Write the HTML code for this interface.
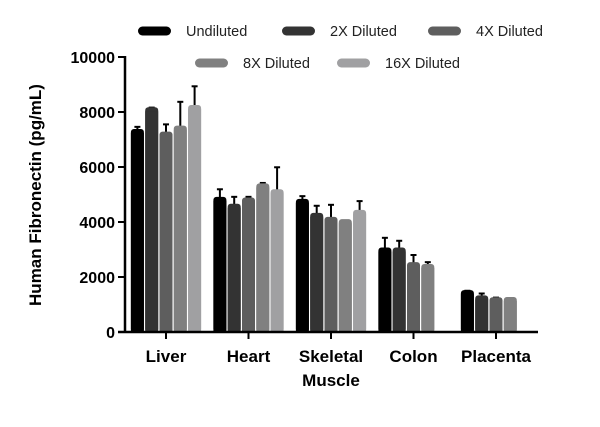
<!DOCTYPE html>
<html><head><meta charset="utf-8"><style>
body{margin:0;background:#fff;}
svg text{font-family:"Liberation Sans",sans-serif;}
</style></head><body>
<svg id="chart" width="600" height="422" viewBox="0 0 600 422" xmlns="http://www.w3.org/2000/svg">
<g id="legend"></g>
<g id="bars"></g>
<g id="axes"></g>
<text transform="translate(41,195) rotate(-90)" text-anchor="middle" font-size="17" font-weight="bold">Human Fibronectin (pg/mL)</text>
</svg>
<script>
const categories = ["Liver","Heart","Skeletal|Muscle","Colon","Placenta"];
const seriesNames = ["Undiluted","2X Diluted","4X Diluted","8X Diluted","16X Diluted"];
const undiluted = [7310,4840,4770,3000,1450];
const diluted2x = [8100,4590,4260,3000,1260];
const diluted4x = [7215,4820,4115,2470,1190];
const diluted8x = [7430,5330,4030,2400,1200];
const diluted16x = [8180,5120,4370,null,null];
const err_undiluted = [150,350,170,425,50];
const err_2x = [60,325,330,317,140];
const err_4x = [335,95,510,330,60];
const err_8x = [940,90,25,140,20];
const err_16x = [755,870,390,null,null];
const yTicks = [0,2000,4000,6000,8000,10000];

const series=[undiluted,diluted2x,diluted4x,diluted8x,diluted16x];
const errs=[err_undiluted,err_2x,err_4x,err_8x,err_16x];
const colors=["#000000","#333333","#5e5e5e","#808080","#a0a0a2"];
const NS="http://www.w3.org/2000/svg";
const x0=125,y0=332,yTop=57,yMax=10000;
const y=v=>y0-(v/yMax)*(y0-yTop);
const groupCenter=i=>166+i*82.5;
const pitch=14.3,bw=13;
function mk(tag,attrs,parent){const e=document.createElementNS(NS,tag);for(const k in attrs)e.setAttribute(k,attrs[k]);parent.appendChild(e);return e;}
const bars=document.getElementById('bars'),axes=document.getElementById('axes'),legend=document.getElementById('legend');
categories.forEach((c,i)=>{
  const start=groupCenter(i)-2.5*pitch;
  series.forEach((s,j)=>{
    const v=s[i]; if(v==null)return;
    const bx=start+j*pitch+(pitch-bw)/2;
    const eb=errs[j][i];
    const ln=mk('line',{x1:bx+bw/2,x2:bx+bw/2,y1:y(v),y2:y(v+eb),stroke:"#000","stroke-width":2},bars);
    
    
    const cap=mk('line',{x1:bx+bw/2-3,x2:bx+bw/2+3,y1:y(v+eb),y2:y(v+eb),stroke:"#000","stroke-width":2},bars);
    
    
    const r=mk('rect',{x:bx,y:y(v)-2,width:bw,height:y0-y(v)+2,rx:3,fill:colors[j]},bars);
    
    
    const r2=mk('rect',{x:bx,y:y(v)+2,width:bw,height:y0-y(v)-2,fill:colors[j]},bars);
    
    
  });
  const t=mk('line',{x1:groupCenter(i),x2:groupCenter(i),y1:y0,y2:y0+7,stroke:"#000","stroke-width":2},axes);
  
  
  const parts=c.split('|');
  parts.forEach((p,k)=>{
    const tx=mk('text',{x:groupCenter(i),y:362+k*24,"text-anchor":"middle","font-size":17,"font-weight":"bold"},axes);
    tx.textContent=p;
    
    
  });
});
const ya=mk('line',{x1:x0,x2:x0,y1:yTop-1,y2:y0+1,stroke:"#000","stroke-width":2.5},axes);


const xa=mk('line',{x1:118,x2:538,y1:y0,y2:y0,stroke:"#000","stroke-width":2.5},axes);


yTicks.forEach(v=>{
  const t=mk('line',{x1:118,x2:x0,y1:y(v),y2:y(v),stroke:"#000","stroke-width":2},axes);
  
  
  const tx=mk('text',{x:115,y:y(v)+6,"text-anchor":"end","font-size":16,"font-weight":"bold"},axes);
  tx.textContent=v;
  
  
});
const legPos=[[138,31],[282,31],[428,31],[195,63],[337,63]];
seriesNames.forEach((n,j)=>{
  const [lx,ly]=legPos[j];
  const g=mk('g',{},legend);
  
  
  mk('rect',{x:lx,y:ly-4.5,width:33,height:9,rx:4.5,fill:colors[j]},g);
  const tx=mk('text',{x:lx+48,y:ly+5,"font-size":14.5,fill:"#222"},g);
  tx.textContent=n;
});
</script>
</body></html>
